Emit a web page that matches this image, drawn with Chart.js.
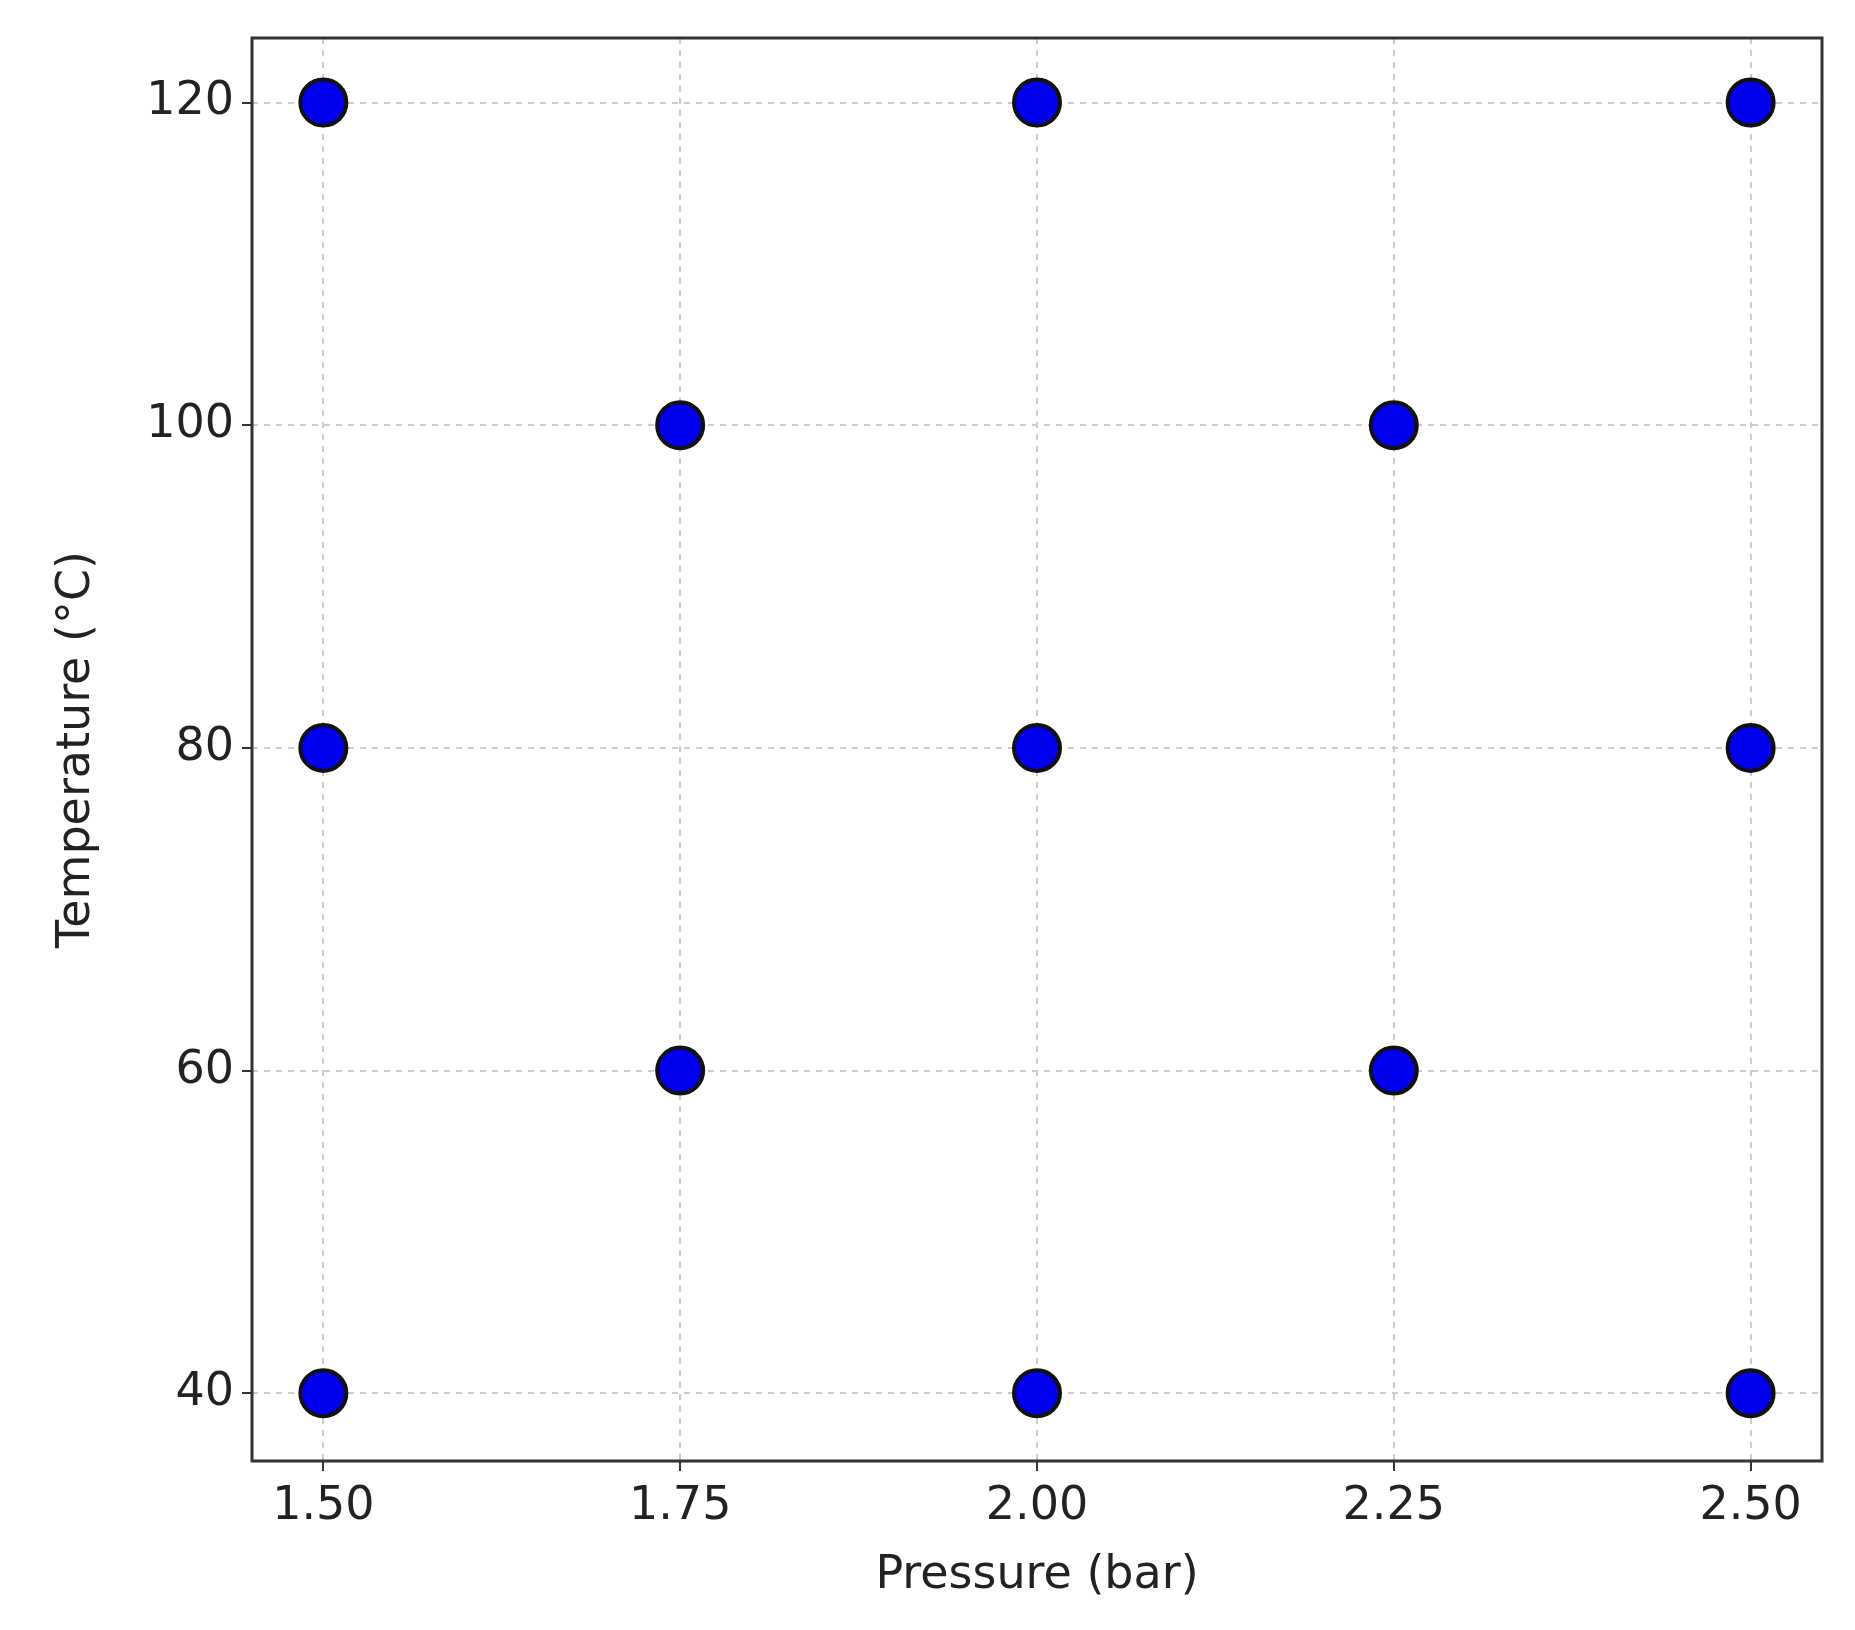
<!DOCTYPE html>
<html>
<head>
<meta charset="utf-8">
<script src="https://cdn.jsdelivr.net/npm/chart.js@4/dist/chart.umd.min.js"></script>
<style>
  html, body { margin: 0; background: #fff; }
  #wrap { width: 1855px; height: 1630px; }
</style>
</head>
<body>
<div id="wrap"><canvas id="c"></canvas></div>
<script>
// Data
const pressure = [1.5, 1.5, 1.5, 1.75, 1.75, 2.0, 2.0, 2.0, 2.25, 2.25, 2.5, 2.5, 2.5];
const temperature = [40, 80, 120, 60, 100, 40, 80, 120, 60, 100, 40, 80, 120];
const xTicks = [1.5, 1.75, 2.0, 2.25, 2.5];
const yTicks = [40, 60, 80, 100, 120];

const font = { family: 'DejaVu Sans', size: 46 };

const frame = {
  id: 'frame',
  afterDraw(chart) {
    const { ctx, chartArea: a } = chart;
    ctx.save();
    ctx.strokeStyle = '#333';
    ctx.lineWidth = 3;
    ctx.strokeRect(a.left, a.top, a.right - a.left, a.bottom - a.top);
    ctx.restore();
  }
};

new Chart(document.getElementById('c'), {
  type: 'scatter',
  data: {
    datasets: [{
      data: pressure.map((p, i) => ({ x: p, y: temperature[i] })),
      backgroundColor: '#0000ee',
      borderColor: '#111',
      borderWidth: 4,
      pointRadius: 23,
      pointHoverRadius: 23,
    }],
  },
  options: {
    responsive: true,
    maintainAspectRatio: false,
    animation: false,
    layout: { padding: { top: 38, right: 33, left: 45, bottom: 22 } },
    plugins: { legend: { display: false }, tooltip: { enabled: false } },
    scales: {
      x: {
        type: 'linear', min: 1.45, max: 2.55,
        afterBuildTicks: (s) => { s.ticks = xTicks.map((v) => ({ value: v })); },
        afterFit: (s) => { s.height = 147; },
        ticks: { font, color: '#222', padding: 8, callback: (v) => v.toFixed(2) },
        grid: { color: '#ccc', lineWidth: 2, tickColor: '#333', tickLength: 10, tickWidth: 2 },
        border: { display: false, dash: [6, 6] },
        title: { display: true, text: 'Pressure (bar)', font, color: '#222', padding: { top: 0 } },
      },
      y: {
        type: 'linear', min: 35.8, max: 124,
        afterBuildTicks: (s) => { s.ticks = yTicks.map((v) => ({ value: v })); },
        afterFit: (s) => { s.width = 207; },
        ticks: { font, color: '#222', padding: 8 },
        grid: { color: '#ccc', lineWidth: 2, tickColor: '#333', tickLength: 10, tickWidth: 2 },
        border: { display: false, dash: [6, 6] },
        title: { display: true, text: 'Temperature (°C)', font, color: '#222', padding: { bottom: 4 } },
      },
    },
  },
  plugins: [frame],
});
</script>
</body>
</html>
